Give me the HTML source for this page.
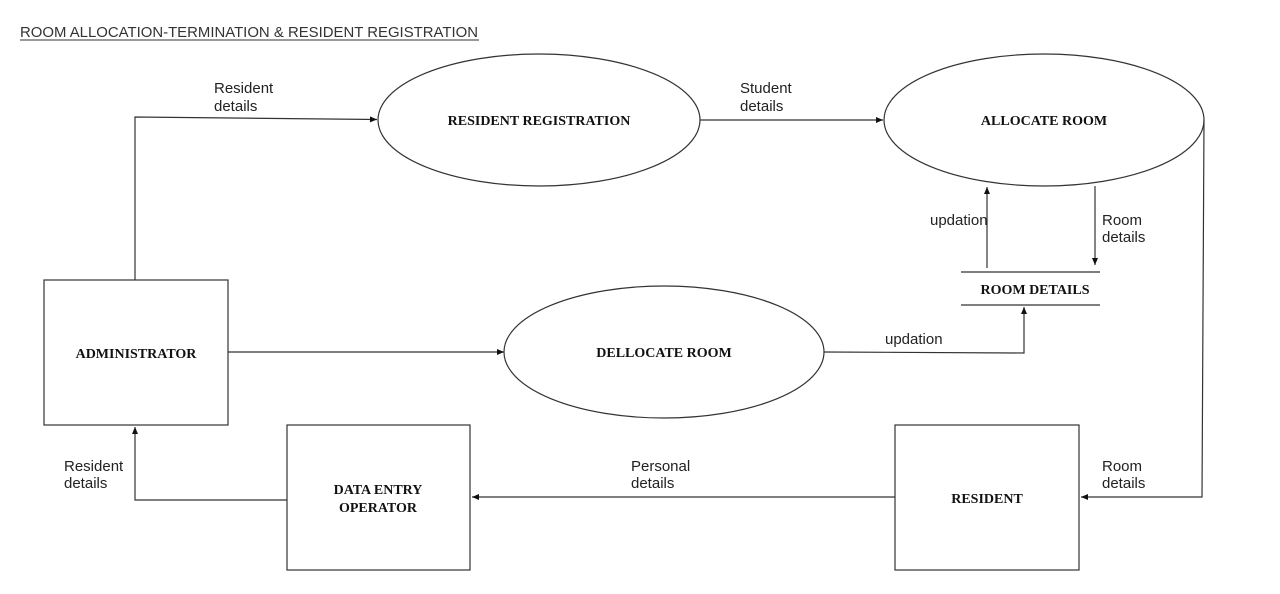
<!DOCTYPE html>
<html><head><meta charset="utf-8"><style>
html,body{margin:0;padding:0;background:#fff;}
svg{display:block;}
.s{font-family:"Liberation Sans",sans-serif;font-size:15px;fill:#222;}
.b{font-family:"Liberation Serif",serif;font-size:14px;font-weight:bold;fill:#111;}
</style></head><body>
<svg width="1280" height="594" viewBox="0 0 1280 594" xmlns="http://www.w3.org/2000/svg">
<defs><marker id="a" markerWidth="8" markerHeight="8" refX="7" refY="4" orient="auto" markerUnits="userSpaceOnUse"><path d="M0,1 L7,4 L0,7 Z" fill="#111"/></marker></defs>
<text x="20" y="37" class="s" style="font-size:15px;fill:#333" textLength="458" lengthAdjust="spacingAndGlyphs">ROOM ALLOCATION-TERMINATION &amp; RESIDENT REGISTRATION</text>
<line x1="20" y1="40" x2="479" y2="40" stroke="#333" stroke-width="1"/>
<g fill="none" stroke="#333" stroke-width="1.2">
<ellipse cx="539" cy="120" rx="161" ry="66"/>
<ellipse cx="1044" cy="120" rx="160" ry="66"/>
<ellipse cx="664" cy="352" rx="160" ry="66"/>
<rect x="44" y="280" width="184" height="145"/>
<rect x="287" y="425" width="183" height="145"/>
<rect x="895" y="425" width="184" height="145"/>
<line x1="961" y1="272" x2="1100" y2="272"/>
<line x1="961" y1="305" x2="1100" y2="305"/>
<polyline points="135,280 135,117 377,119.5" marker-end="url(#a)"/>
<line x1="700" y1="120" x2="883" y2="120" marker-end="url(#a)"/>
<line x1="987" y1="268" x2="987" y2="187" marker-end="url(#a)"/>
<line x1="1095" y1="186" x2="1095" y2="265" marker-end="url(#a)"/>
<polyline points="1204,120 1202,497 1081,497" marker-end="url(#a)"/>
<line x1="228" y1="352" x2="504" y2="352" marker-end="url(#a)"/>
<polyline points="824,352 1024,353 1024,307" marker-end="url(#a)"/>
<line x1="895" y1="497" x2="472" y2="497" marker-end="url(#a)"/>
<polyline points="287,500 135,500 135,427" marker-end="url(#a)"/>
</g>
<text x="214" y="93" class="s">Resident</text><text x="214" y="111" class="s">details</text>
<text x="740" y="93" class="s">Student</text><text x="740" y="111" class="s">details</text>
<text x="930" y="225" class="s">updation</text>
<text x="1102" y="225" class="s">Room</text><text x="1102" y="242" class="s">details</text>
<text x="885" y="344" class="s">updation</text>
<text x="1102" y="471" class="s">Room</text><text x="1102" y="488" class="s">details</text>
<text x="631" y="471" class="s">Personal</text><text x="631" y="488" class="s">details</text>
<text x="64" y="471" class="s">Resident</text><text x="64" y="488" class="s">details</text>
<text x="539" y="125" class="b" text-anchor="middle">RESIDENT REGISTRATION</text>
<text x="1044" y="125" class="b" text-anchor="middle">ALLOCATE ROOM</text>
<text x="664" y="357" class="b" text-anchor="middle">DELLOCATE ROOM</text>
<text x="1035" y="294" class="b" text-anchor="middle">ROOM DETAILS</text>
<text x="136" y="358" class="b" text-anchor="middle">ADMINISTRATOR</text>
<text x="378" y="494" class="b" text-anchor="middle">DATA ENTRY</text>
<text x="378" y="512" class="b" text-anchor="middle">OPERATOR</text>
<text x="987" y="503" class="b" text-anchor="middle">RESIDENT</text>
</svg>
</body></html>
